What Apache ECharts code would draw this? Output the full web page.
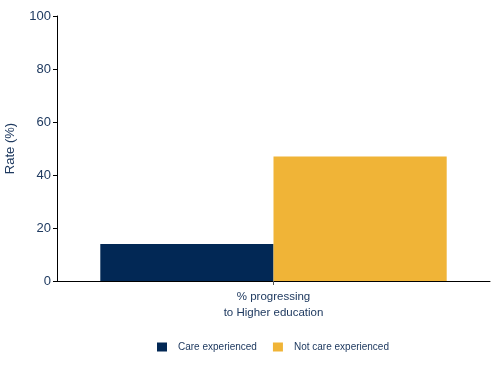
<!DOCTYPE html>
<html><head><meta charset="utf-8">
<script src="https://cdn.jsdelivr.net/npm/echarts@6/dist/echarts.min.js"></script>
<style>html,body{margin:0;padding:0;background:#fff}#c{width:500px;height:367px}</style>
</head><body><div id="c"></div>
<script>
const categories = ['% progressing\nto Higher education'];
const careExperienced = [14];
const notCareExperienced = [47];
const yTicks = [0, 20, 40, 60, 80, 100];

const txt = '#1f3a60';
const chart = echarts.init(document.getElementById('c'));
chart.setOption({
  animation: false,
  textStyle: {fontFamily: 'Liberation Sans, Arial, sans-serif'},
  grid: {left: 57, right: 10, top: 16, bottom: 86, containLabel: false, outerBoundsMode: 'none'},
  legend: {
    top: 337, left: 152, itemWidth: 10, itemHeight: 9, itemGap: 16,
    icon: 'rect',
    textStyle: {color: txt, fontSize: 10, padding: [0, 0, 0, 6], fontFamily: 'Liberation Sans, Arial, sans-serif'},
    data: ['Care experienced', 'Not care experienced']
  },
  xAxis: {
    type: 'category', data: categories,
    axisLine: {lineStyle: {color: '#000', width: 1}},
    axisTick: {show: true, alignWithLabel: true, length: 4, lineStyle: {color: '#555'}},
    axisLabel: {color: txt, fontSize: 11.5, lineHeight: 16, margin: 8}
  },
  yAxis: {
    type: 'value', min: yTicks[0], max: yTicks[yTicks.length - 1], interval: 20,
    name: 'Rate (%)', nameLocation: 'middle', nameGap: 40, nameRotate: 90,
    nameTextStyle: {color: txt, fontSize: 13},
    axisLine: {show: true, lineStyle: {color: '#000', width: 1}},
    axisTick: {show: true, length: 4, lineStyle: {color: '#000'}},
    axisLabel: {color: txt, fontSize: 13, margin: 6},
    splitLine: {show: false}
  },
  series: [
    {name: 'Care experienced', type: 'bar', data: careExperienced, barGap: '0%', barCategoryGap: '20%',
     itemStyle: {color: '#022855'}},
    {name: 'Not care experienced', type: 'bar', data: notCareExperienced, barGap: '0%', barCategoryGap: '20%',
     itemStyle: {color: '#f0b437'}}
  ]
});
</script></body></html>
